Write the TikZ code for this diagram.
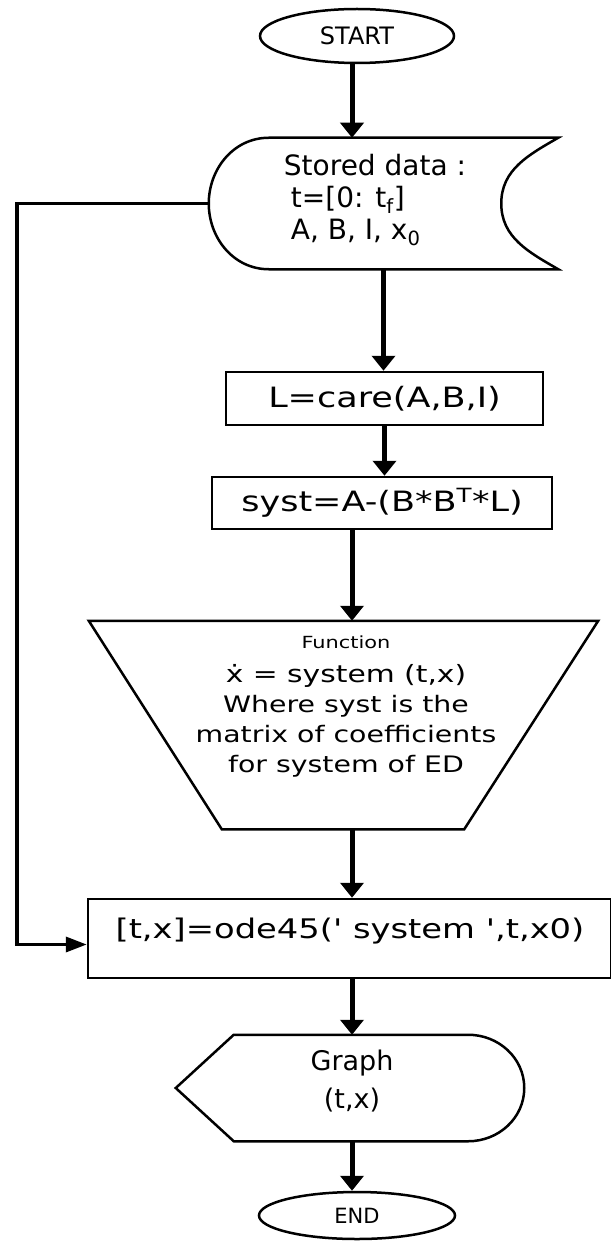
\documentclass[tikz,border=0pt]{standalone}
\usepackage{fontspec}
\setmainfont{DejaVu Sans}[Ligatures=TeXOff]
\newfontfamily\widefont{DejaVu Sans}[Ligatures=TeXOff, FakeStretch=1.25]
\usetikzlibrary{arrows.meta, shapes.geometric, calc}

\tikzset{
  frame/.style={inner sep=0pt, line width=2.5pt},
  outline/.style={line width=2.5pt},
  flow/.style={line width=5pt, -{Triangle[length=15pt, width=23pt]}},
  back/.style={line width=3.5pt, -{Triangle[length=21pt, width=15pt]}},
}

\begin{document}
\begin{tikzpicture}[x=1pt, y=-1pt]
\useasboundingbox (0,0) rectangle (610,1241);
\coordinate (axis) at (352,0);

%% START
\node[ellipse, draw, frame, minimum width=194, minimum height=54, font=\fontsize{24}{28}\selectfont] (start) at (357,36) {START};

%% stored data
\node[frame, minimum width=347, minimum height=129] (data) at (383.5,203.5) {};
\draw[outline] ($(data.north west)+(60,0)$) -- (data.north east) to[out=210, in=90] ($(data.east)+(-57,0)$) to[out=-90, in=150] (data.south east) -- ($(data.south west)+(60,0)$) to[out=180, in=-90] (data.west) to[out=90, in=180] ($(data.north west)+(60,0)$) -- cycle;
\node[align=left, font=\fontsize{28}{32}\selectfont] (datatext) at (375,200) {Stored data :\\\hspace*{7pt}t=[0: t\textsubscript{f}]\\\hspace*{7pt}A, B, I, x\textsubscript{0}};

%% care / syst
\node[draw, frame, minimum width=317, minimum height=53, font=\widefont\fontsize{28}{32}\selectfont] (care) at (384.5,398.5) {L=care(A,B,I)};
\node[draw, frame, minimum width=340, minimum height=52, font=\widefont\fontsize{28}{32}\selectfont] (syst) at (382,503) {syst=A-(B*B\textsuperscript{T}*L)};

%% function
\node[frame, minimum width=507, minimum height=206] (func) at (343.5,725) {};
\draw[outline] (func.north west) -- (func.north east) -- ($(func.south east)+(-134,0)$) -- ($(func.south west)+(133,0)$) -- cycle;
\node[align=center, font=\widefont\fontsize{22.7}{30}\selectfont] (functext) at (346,707) {{\fontsize{16.7}{19}\selectfont Function}\\[4pt]{\fontsize{23.8}{27}\selectfont ẋ = system (t,x)}\\Where syst is the\\matrix of coefficients\\for system of ED};

%% ode45
\node[draw, frame, minimum width=523, minimum height=79] (ode) at (349.5,938.5) {};
\node[font=\widefont\fontsize{27}{32}\selectfont] (odetext) at (350,931) {[t,x]=ode45(' system ',t,x0)};

%% graph
\node[frame, minimum width=346, minimum height=104] (graph) at (350,1088) {};
\draw[outline] (graph.west) -- ($(graph.north west)+(58,0)$) -- ($(graph.north east)+(-56,0)$) to[out=0, in=90] (graph.east) to[out=-90, in=0] ($(graph.south east)+(-56,0)$) -- ($(graph.south west)+(58,0)$) -- cycle;
\node[align=center, font=\fontsize{27}{38}\selectfont] (graphtext) at (352,1081) {Graph\\(t,x)};

%% END
\node[ellipse, draw, frame, minimum width=196, minimum height=47, font=\fontsize{21}{25}\selectfont] (finish) at (357,1215.5) {END};

%% arrows
\draw[flow] (axis |- start.south) -- (axis |- data.north);
\draw[flow] (data.south) -- (data.south |- care.north);
\draw[flow] (care.south) -- (care.south |- syst.north);
\draw[flow] (axis |- syst.south) -- (axis |- func.north);
\draw[flow] (axis |- func.south) -- (axis |- ode.north);
\draw[flow] (axis |- ode.south) -- (axis |- graph.north);
\draw[flow] (axis |- graph.south) -- (axis |- finish.north);

%% back to ode45
\coordinate (loop) at (17,203.5);
\draw[back] (data.west) -- (loop) |- ([yshift=-6pt]ode.west);

\end{tikzpicture}
\end{document}
